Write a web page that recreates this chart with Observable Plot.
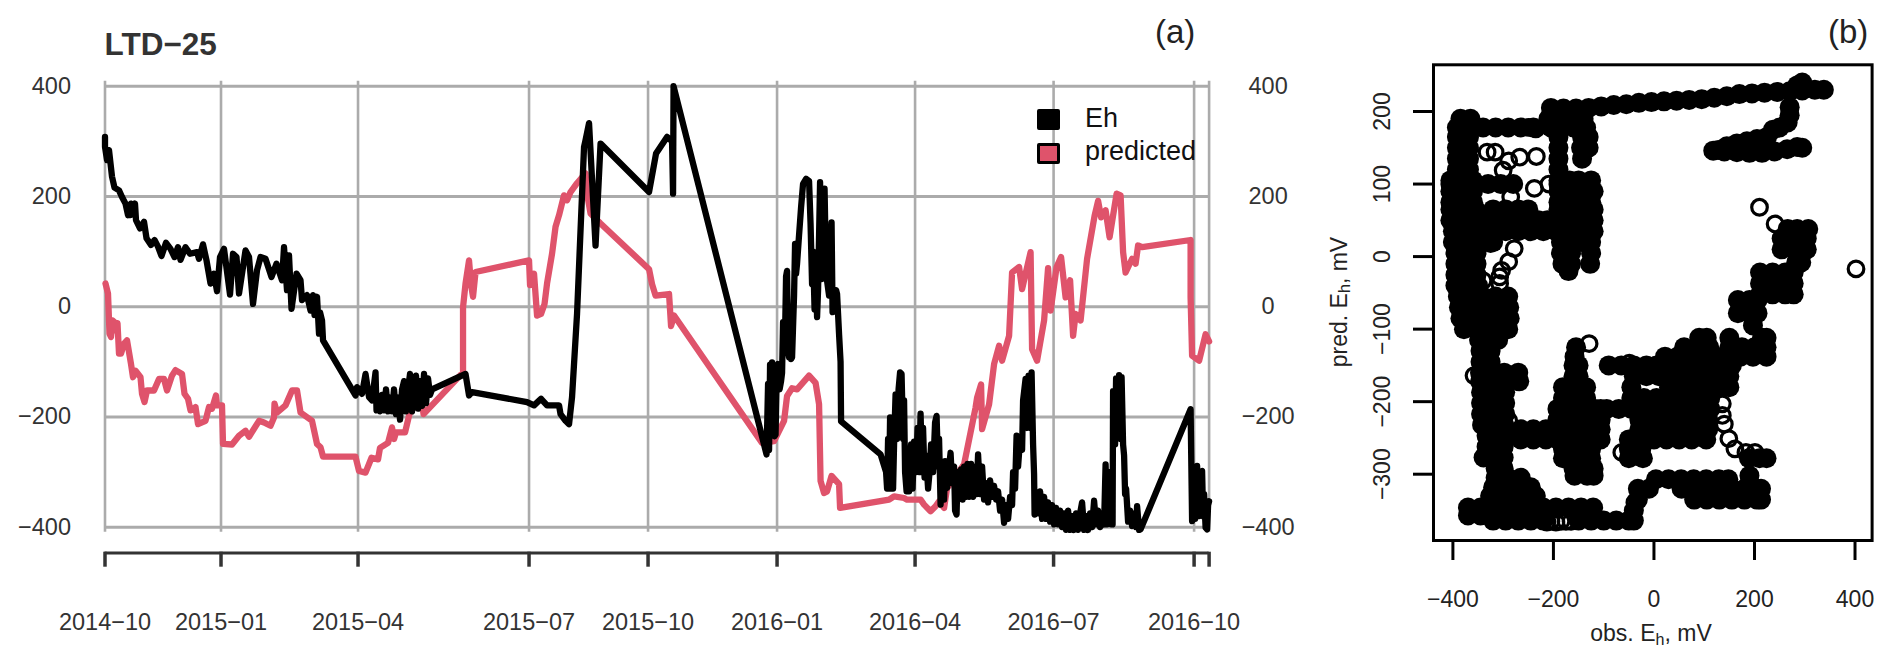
<!DOCTYPE html>
<html><head><meta charset="utf-8">
<script src="https://cdn.jsdelivr.net/npm/d3@7"></script>
<script src="https://cdn.jsdelivr.net/npm/@observablehq/plot@0.6"></script>
<style>
html,body{margin:0;padding:0;background:#fff}
#page{position:relative;width:1892px;height:665px;overflow:hidden;font-family:"Liberation Sans",Arial,sans-serif}
#page svg{position:absolute;top:0;background:transparent;font-family:"Liberation Sans",Arial,sans-serif}
.t{position:absolute;line-height:1;white-space:nowrap}
.sw{position:absolute;box-sizing:border-box;width:23px;height:21px;border:3px solid #000;border-radius:2px}
sub{font-size:.7em;line-height:0;vertical-align:-0.22em}
</style></head><body><div id="page"></div>
<script>
// Panel (a): x is the plotting record number (the time axis is observation based, so months differ in width)
const monthRecords = [0,116,253,424,543,672,810,948.5,1089,1104];
const monthLabels  = ["2014−10","2015−01","2015−04","2015−07","2015−10","2016−01","2016−04","2016−07","2016−10",""];
const mvTicks = [-400,-200,0,200,400];

const ehTrace = [[0,308],[0,290],[2,266],[4,284],[5.5,260],[7,236],[9.5,216],[14,211],[17,199],[20.5,187],[23,166],[26,187],[25.5,166],[30,187],[31,157],[35,142],[39,154],[41.5,124],[46,112],[49.5,121],[53,109],[56.5,92],[61,116],[65.5,105],[69.5,90],[73,108],[75.5,85],[80.5,108],[85,96],[92,99],[94,87],[98,113],[101.5,84],[105.5,42],[109,60],[112,28],[115,90],[119,105],[125,22],[128,96],[131.5,90],[134,24],[140.5,102],[144,90],[148,5],[152,66],[155.5,90],[160.5,87],[166.5,54],[171.5,78],[177,48],[179,108],[182,30],[184,93],[186.5,-4],[191.5,60],[195.5,48],[197,12],[202,21],[205.5,-7],[208,21],[209.5,-15],[212,18],[214,-49],[215,-10],[217,-25],[218,-61],
[250.5,-161],[252,-146],[257,-158],[260.5,-122],[264,-164],[267,-170],[270.5,-119],[271.5,-188],[273,-170],[275,-190],[277,-160],[279,-188],[281,-150],[283,-190],[285,-165],[287,-190],[289,-150],[291,-195],[293,-165],[295,-205],[297,-150],[299,-135],[301,-190],[303,-150],[305,-122],[307,-190],[309,-140],[311,-125],[313,-185],[315,-135],[317,-180],[319,-122],[321,-175],[323,-130],[325,-160],[327,-150],[360.5,-122],[364,-161],[367,-155],[422,-173],[429,-179],[436,-167],[442,-179],[454,-179],[455.5,-195],[460.5,-207],[464,-213],[467,-164],[472,-13],[479,290],[480.5,302],[484,333],[490.5,111],[495.5,296],[544,208],[551,278],[562,308],[567,300],[568,205],[568.5,400],
[661.5,-268],[663,-140],[664,-260],[665,-105],[666,-230],[667,-101],[668,-225],[669.5,-235],[670.5,-232],[671.5,-140],[673,-104],[674.5,-150],[676,-135],[677,-120],[678,-28],[680,-50],[681,55],[682,65],[683,-80],[684,-92],[685,-40],[686,-95],[687,-92],[689,20],[690,114],[691,60],[692,78],[694,130],[696,180],[698,223],[701,232],[704,228],[705.5,150],[707,41],[708,100],[709.5,-5],[711,60],[712,-19],[713,30],[715,226],[716.5,50],[719.5,214],[721,60],[722,47],[724,20],[726.5,153],[727.5,-10],[729.5,-1],[731,30],[732,23],[734,-50],[735.5,-100],[736,-208],[775.5,-268],
[781,-300],[782,-330],[783,-240],[784,-330],[785,-201],[786,-330],[787,-210],[788,-330],[789,-250],[790.5,-159],[792,-240],[793.5,-150],[795,-119],[796.5,-122],[798,-240],[799,-170],[800,-300],[801.5,-335],[803,-270],[804,-335],[806,-250],[807.5,-330],[809,-245],[811,-300],[812.5,-220],[814,-300],[815.5,-194],[817,-300],[818,-220],[819.5,-310],[821,-270],[823,-330],[824.5,-300],[826,-250],[828,-300],[830,-210],[831.5,-198],[833,-290],[834,-240],[835.5,-359],[837,-300],[839,-350],[840,-280],[842,-329],[844,-290],[845.5,-265],[847,-320],[849,-290],[850,-370],[851.5,-377],[852.5,-300],[854,-340],[856,-295],[857.5,-350],[859,-290],[861,-345],[862.5,-285],[864,-345],[866,-285],[868,-345],[870,-290],[871.5,-340],[873,-268],[875,-340],[877,-290],[879,-350],[881,-320],[883,-355],[885,-315],[887,-345],[889,-325],[891,-350],[893,-335],[895,-370],[897,-350],[899,-392],[901,-360],[903,-385],[905,-345],[907,-360],[908,-300],[910,-330],[911.5,-234],[913,-290],[915,-240],[917,-260],[918,-170],[920.5,-131],[922,-220],[923.5,-125],[925,-220],[926.5,-119],[928,-250],[929,-304],[929.5,-377],
[931,-340],[933,-375],[935,-335],[937,-385],[939,-345],[941,-385],[943,-355],[945,-390],[947,-360],[949,-395],[951,-365],[953,-395],[955,-370],[957,-400],[959,-375],[961,-405],[963,-370],[965,-405],[967,-380],[969,-405],[971,-375],[973,-405],[975,-375],[977,-355],[979,-405],[981,-380],[983,-405],[985,-375],[987,-400],[989,-352],[991,-395],[993,-370],[995,-400],[997,-375],[999,-395],[1000.5,-286],[1002,-395],[1004,-300],[1006,-395],[1007.5,-395],[1008,-153],[1010,-250],[1011,-130],[1013,-230],[1014,-124],[1015.5,-240],[1016.5,-128],[1018,-250],[1019,-270],[1020,-340],[1021,-330],[1023,-390],[1025,-370],[1027,-398],[1029,-375],[1031,-400],[1032,-362],[1034,-405],[1035.5,-404],[1085.5,-186],[1087,-389],[1089,-300],[1090,-385],[1092,-289],[1094,-380],[1095.5,-300],[1097,-298],[1098,-380],[1099,-340],[1100.5,-401],[1102,-404],[1103,-360],[1104,-353]];

const predictedTrace = [[0.5,42],[3,24],[4.5,-49],[6,-55],[7.5,-25],[9.5,-28],[11.5,-43],[12.5,-30],[14,-85],[16,-85],[19,-67],[22,-61],[26,-104],[28,-128],[30.5,-116],[35.5,-128],[37,-158],[39.5,-173],[42,-152],[49,-152],[54,-131],[59,-131],[62,-152],[67,-125],[70.5,-115],[77,-122],[79.5,-158],[83,-167],[85.5,-188],[90.5,-182],[93,-213],[100.5,-207],[104,-182],[107,-185],[111,-161],[112,-179],[117,-179],[118,-249],[127,-250],[134,-234],[140.5,-225],[144,-236],[154,-207],[159,-210],[165.5,-216],[169,-201],[169.5,-176],[172,-192],[180.5,-179],[187,-152],[192,-152],[195.5,-192],[207,-207],[212,-249],[215.5,-255],[218,-272],[250.5,-272],[254,-298],[260.5,-301],[266.5,-274],[273,-277],[275,-256],[283,-247],[287,-219],[289,-240],[291,-228],[300,-228],[304,-198],[314,-135],[318.5,-195],
[358,-119],[358,-1],[360.5,42],[364,84],[366,40],[368,18],[370.5,63],[424,84],[425,39],[429,60],[432,-16],[436,-13],[439.5,5],[442,42],[447,96],[450.5,145],[454,166],[459,202],[462,193],[465.5,208],[472,224],[480.5,242],[482,205],[485.5,169],[495.5,151],[544,68],[547,41],[550.5,20],[564,23],[566,-35],[569,-16],[657,-247],[669,-244],[679,-207],[682,-162],[687,-148],[692,-150],[704,-125],[710.5,-138],[714,-177],[715.5,-316],[719,-338],[722,-335],[726.5,-307],[734,-322],[735,-365],[784,-350],[789,-344],[799,-347],[802,-350],[815.5,-350],[819,-359],[825.5,-371],[830.5,-362],[834,-353],[839,-365],[842,-329],[859,-286],[870.5,-183],[872,-165],[876,-141],[877,-222],[884,-177],[889,-104],[894,-71],[897,-98],[904,-53],[907,62],[914,72],[917,32],[925.5,99],[927,-77],[932,-98],[939,-25],[943,70],[945.5,-7],[951.5,72],[956,90],[960.5,17],[965,48],[968,-53],[970.5,-13],[975.5,-25],[982,87],[989.5,165],[993,192],[996,162],[1000.5,175],[1004.5,126],[1011.5,205],[1015.5,202],[1018,99],[1020.5,62],[1027,87],[1030.5,78],[1033,111],[1037,108],[1085.5,121],[1085.5,17],[1087,-89],[1094,-98],[1100.5,-50],[1104,-63]];

// Panel (b): the saturated clouds, row by row: [predicted, observed...]
const cloudRows = [
 [190,-385,-365,-210,-190,-165,-140],
 [178,-392,-367,-340,-315,-290,-265,-240,-205,-185,-160,-135],
 [165,-392,-368,-190,-143,-130],[150,-392,-368,-190,-145,-130],[135,-392,-368,-190,-143],[120,-392,-368,-190],
 [105,-405,-382,-360,-190,-168,-150,-125],[100,-405,-380,-355,-330,-305,-280,-190],
 [90,-405,-382,-360,-190,-170,-150,-128,-120],[75,-405,-382,-360,-190,-170,-150,-125],
 [65,-405,-380,-355,-320,-295,-270,-250,-190,-168,-150,-125,-120],
 [50,-405,-380,-355,-330,-305,-280,-255,-230,-212,-190,-170,-150,-125,-120],
 [35,-400,-375,-350,-325,-295,-270,-245,-220,-195,-170,-150,-125,-120],
 [20,-400,-375,-350,-320,-185,-165,-145,-125],[5,-395,-372,-353,-185,-165,-125],
 [-10,-395,-372,-353,-182,-165,-127],[-20,-170],[-25,-395,-372,-353],[-40,-395,-372,-350],
 [-55,-390,-365,-340,-315,-290],[-70,-388,-363,-338,-313,-288],[-85,-385,-360,-335,-310,-287],[-100,-378,-355,-330,-305,-290],
 [-115,-348,-326,-310],[-130,-345,-325],[-145,-345,-325],[-160,-346,-322,-298,-270],[-172,-346,-322,-298,-268],
 [-187,-344,-320,-296],[-202,-344,-320,-296],[-217,-344,-320,-296],[-232,-342,-318,-298],[-247,-333,-312,-299],[-262,-333,-312,-299],
 [-277,-339,-315,-299],[-292,-315,-299],[-305,-315,-290,-265],[-318,-320,-295,-270,-245],[-330,-326,-300,-275,-250,-235],
 [-346,-370,-345,-320,-295,-270,-245,-220,-195,-170,-145,-121],[-357,-370,-345,-320,-295,-270,-245,-220],
 [-350,-40],[-364,-320,-295,-270,-245,-220,-150,-125,-100,-75,-50,-40],
 [-112,90,105,150,215,224],[-95,197],
 [-125,60,85,110,150,175,200,224,-155],[-138,22,47,72,97,122,147,172,197,224,-158],
 [-150,5,30,55,80,105,130,155,-90,-65,-40,-15,-160,-150],[-165,-40,-15,10,35,60,85,110,130,150,-160,-150],
 [-180,-45,30,55,80,105,130,150,-181,-158,-135],[-195,-45,-20,5,30,55,80,105,112,-181,-158,-135],
 [-210,-94,-70,-45,-20,5,30,55,80,105,112,-192,-167,-142,-117,-106],
 [-225,-29,-4,21,46,71,96,108,-192,-167,-142,-117,-106],
 [-238,-29,-4,21,46,71,96,108,-265,-240,-215,-192,-167,-142,-117,-106],
 [-252,-50,-25,0,25,50,75,104,-265,-240,-215,-192,-167,-142,-117,-106],
 [-265,-50,-25,-181,-156,-125],[-278,-50,-22,-181,-156,-125,189,210,224],
 [-292,-160,-135,-120],[-302,-158,-133,-120,190],
 [-307,4,29,54,79,104,129,148],[-320,-32,-10,55,80,105,130,155,180,205,213],[-335,-32,80,105,130,155,180,205,213],
 [38,266,285,307],[25,254,279,304],[10,254,279,304],[-8,283,293],
 [-22,211,236,261,278],[-37,211,236,261,278],[-52,211,236,261,278],[-60,167,190,206],[-78,167,190,206]
];
// Panel (b): the long narrow bands of the cloud, as [observed, predicted]
const cloudBands = [[-205,205],[-180,204],[-155,204],[-130,205],[-105,207],[-80,209],[-55,210],[-30,212],[-5,213],[20,214],[45,215],[70,216],[95,217],[120,219],[145,221],[170,224],[195,225],[220,226],[245,227],[270,228],[295,229],[320,230],[338,230],[295,240],[285,236],
 [270,206],[270,195],[266,185],[250,178],[237,175],[225,165],[205,162],[185,159],[165,156],[145,152],[128,147],[118,146],[140,145],[165,144],[190,143],[215,143],[240,145],[265,148],[285,151],[295,150]];
// Panel (b): individually visible open circles, as [observed, predicted]
const openPoints = [[402,-17],[210,68],[241,45],[-129,-120],[-234,138],[-267,137],[-289,132],[-316,144],[-332,144],[-300,119],[-238,94],[-209,100],[-278,11],[-289,-7],[-303,-19],[-307,-28],[-307,-37],[-340,-33],[-314,32],[-325,18],[-285,82],[136,-203],[136,-219],[140,-231],[149,-251],[161,-265],[183,-270],[201,-270],[-49,-147],[-64,-270],[-289,-226],[-358,-164],[-38,-339],[-249,178],[-235,176],
 [-213,-366],[-205,-365],[-195,-366],[-185,-365],[-175,-365],[-165,-365]];
const obsTicks = [-400,-200,0,200,400];
const predTicks = [-300,-200,-100,0,100,200];

const minus = d => String(d).replace("-","−");
const page = document.getElementById("page");
const red = "#DF536B";

const a = Plot.plot({
  width:1320, height:665, marginLeft:104.5, marginRight:111.4, marginTop:85.7, marginBottom:138.3,
  x:{domain:[0,1104]}, y:{domain:[-400,400]},
  marks:[
    Plot.ruleY(mvTicks,{stroke:"#ababab",strokeWidth:3}),
    Plot.ruleX(monthRecords,{y1:-409,y2:409,stroke:"#ababab",strokeWidth:2.6}),
    Plot.axisY(mvTicks,{anchor:"left",tickSize:0,tickPadding:34,tickFormat:minus,label:null,fontSize:23.5,fill:"#333"}),
    Plot.axisY(mvTicks,{anchor:"right",tickSize:0,tickPadding:59,tickFormat:minus,label:null,fontSize:23.5,fill:"#333",textAnchor:"middle"}),
    Plot.ruleY([-447],{x1:0,x2:1104,stroke:"#333",strokeWidth:3}),
    Plot.axisX(monthRecords,{anchor:"bottom",dy:25,tickSize:15,tickPadding:46,tickFormat:(d,i)=>monthLabels[monthRecords.indexOf(d)],label:null,fontSize:23.5,fill:"#333",stroke:"#333",strokeWidth:3.5}),
    Plot.line(predictedTrace,{x:"0",y:"1",stroke:red,strokeWidth:6.3,strokeLinejoin:"round",curve:"linear"}),
    Plot.line(ehTrace,{x:"0",y:"1",stroke:"#000",strokeWidth:6.3,strokeLinejoin:"round",curve:"linear"})
  ]
});
a.style.left="0px";
page.appendChild(a);

const cloud = cloudRows.flatMap(([p,...os])=>os.map(o=>[o,p])).concat(cloudBands);
const b = Plot.plot({
  width:572, height:665, marginLeft:113, marginRight:20.4, marginTop:64.3, marginBottom:125,
  x:{domain:[-438.6,434]}, y:{domain:[-391.4,264.4]},
  marks:[
    Plot.axisX(obsTicks,{anchor:"bottom",tickSize:20,tickPadding:30,tickFormat:minus,label:null,fontSize:23,fill:"#222",stroke:"#000",strokeWidth:3}),
    Plot.axisY(predTicks,{anchor:"left",tickSize:20,tickPadding:24,tickFormat:minus,tickRotate:-90,label:null,fontSize:23,fill:"#222",stroke:"#000",strokeWidth:3}),
    Plot.dot(cloud,{x:"0",y:"1",r:10,fill:"#000"}),
    Plot.dot(openPoints,{x:"0",y:"1",r:7.8,stroke:"#000",strokeWidth:3.2,fill:"none"}),
    Plot.frame({stroke:"#000",strokeWidth:3})
  ]
});
b.style.left="1320px";
page.appendChild(b);

const html = [
 ['<b>LTD−25</b>',"left:104.5px;top:29px;font-size:31.5px;color:#333"],
 ['(a)',"left:1155px;top:15px;font-size:33px;color:#222"],
 ['(b)',"left:1828px;top:15px;font-size:33px;color:#222"],
 ['Eh',"left:1085px;top:105px;font-size:27px;color:#111"],
 ['predicted',"left:1085px;top:138px;font-size:27px;color:#111"],
 ['obs. E<sub>h</sub>, mV',"left:1651px;top:621.5px;font-size:23px;color:#222;transform:translateX(-50%)"],
 ['pred. E<sub>h</sub>, mV',"left:1347px;top:302px;font-size:23px;color:#222;transform-origin:0 0;transform:rotate(-90deg) translate(-50%,-19.5px)"]
];
for (const [t,s] of html){const d=document.createElement("div");d.className="t";d.innerHTML=t;d.style.cssText=s;page.appendChild(d);}
for (const [c,top] of [["#000",108.5],[red,142.5]]){const d=document.createElement("div");d.className="sw";d.style.cssText=`left:1037px;top:${top}px;background:${c}`;page.appendChild(d);}
</script></body></html>
